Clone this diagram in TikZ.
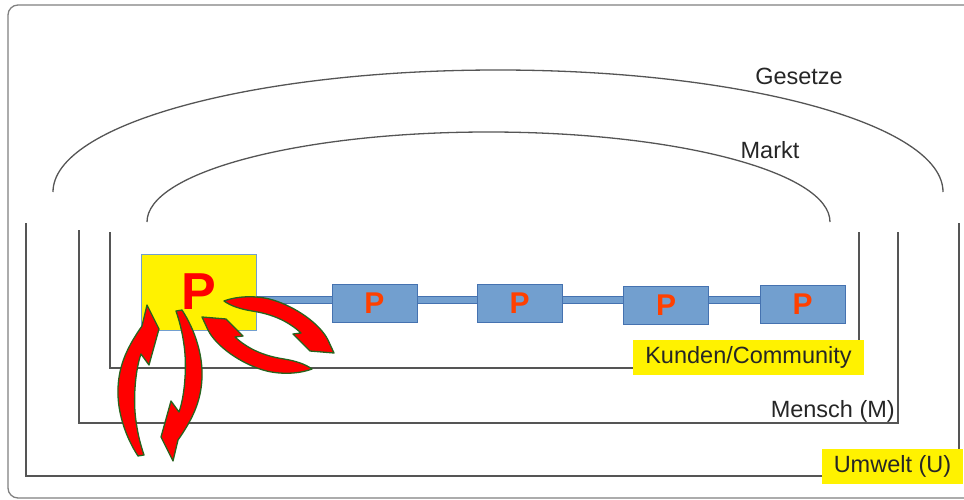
\documentclass[tikz,border=0pt]{standalone}
\usepackage{fontspec}
\setmainfont{Liberation Sans}
\definecolor{pblue}{RGB}{114, 159, 207}
\definecolor{pborder}{RGB}{69, 114, 176}
\definecolor{wallgray}{RGB}{85, 85, 85}
\definecolor{porange}{RGB}{255, 64, 0}
\definecolor{rimgreen}{RGB}{40, 100, 30}
\usetikzlibrary{arrows.meta, positioning, calc}

\begin{document}
\begin{tikzpicture}[x=1pt, y=-1pt,
  wall/.style={draw=wallgray, line width=1.3pt},
  txt/.style={font=\fontsize{23.5}{28}\selectfont, text=black!85},
  hilite/.style={txt, fill=yellow, inner xsep=12pt, minimum height=35pt},
  pbox/.style={draw=pborder, fill=pblue, line width=1pt, minimum width=85pt, minimum height=38pt, inner sep=0pt, font=\fontsize{30}{30}\selectfont\bfseries, text=porange},
  bar/.style={draw=pborder, double=pblue, double distance=6pt, line width=1pt},
  cyc/.style={fill=red, draw=rimgreen, line width=1.3pt, line join=round}
]
  \useasboundingbox (0,0) rectangle (964,500);
  \draw[wall, draw=gray, rounded corners=10pt] (8,5) rectangle (990,498);

  % Gesetze und Markt
  \draw[wall] (53,192) .. controls (53,124.6) and (252.2,70) .. (498,70)
    .. controls (743.8,70) and (943,124.6) .. (943,192);
  \draw[wall] (147,222) .. controls (147,172.3) and (299.9,132) .. (488.5,132)
    .. controls (677.1,132) and (830,172.3) .. (830,222);
  \node[txt] (gesetze) at (799,76) {Gesetze};
  \node[txt] (markt) at (770,150) {Markt};

  % Umwelt, Mensch, Kunden
  \draw[wall] (26,223) |- (959,476) -- (959,223);
  \draw[wall] (79,230) |- (898,423) -- (898,232);
  \draw[wall] (110,232) |- (859,368) -- (859,232);
  \node[txt, anchor=base east, inner sep=0pt] (mensch) at (895,417) {Mensch (M)};
  \node[hilite] (kunden) at (748.5,357.5) {Kunden/Community};
  \node[hilite] (umwelt) at (892.5,466.5) {Umwelt (U)};

  % Unternehmen
  \node[draw=pblue, fill=yellow, line width=1pt, minimum width=115pt, minimum height=76pt,
    font=\fontsize{52}{52}\selectfont\bfseries, text=red] (pbig) at (198.5,292) {P};
  \node[pbox] (p1) at (374.5,303.5) {P};
  \node[pbox] (p2) at (519.5,303.5) {P};
  \node[pbox] (p3) at (666,305) {P};
  \node[pbox] (p4) at (802.5,304) {P};
  \coordinate (barline) at (0,300);
  \draw[bar] (pbig.east |- barline) -- (p1.west |- barline);
  \draw[bar] (p1.east |- barline) -- (p2.west |- barline);
  \draw[bar] (p2.east |- barline) -- (p3.west |- barline);
  \draw[bar] (p3.east |- barline) -- (p4.west |- barline);

  % Kreislaeufe
  \foreach \turn/\cx/\cy in {0/160/383, 180/160/383} {
    \path[cyc, rotate around={\turn:(\cx,\cy)}] (176,311) -- (182,310)
      .. controls (195,330) and (203,355) .. (202,378)
      .. controls (201,402) and (192,420) .. (178,440)
      -- (173,461) -- (161,437) -- (171,401) -- (179,412)
      .. controls (185,395) and (187,365) .. (184,345)
      .. controls (182,330) and (179,320) .. cycle;
  }
  \foreach \turn/\cx/\cy in {0/268/335, 180/268/335} {
    \path[cyc, rotate around={\turn:(\cx,\cy)}] (224,301)
      .. controls (240,295) and (260,296) .. (273,300)
      .. controls (296,307) and (320,324) .. (328,340)
      -- (334,353) -- (310,351) -- (293,334) -- (301,333)
      .. controls (288,321) and (272,314) .. (252,311)
      .. controls (240,309) and (231,306) .. cycle;
  }
\end{tikzpicture}
\end{document}
